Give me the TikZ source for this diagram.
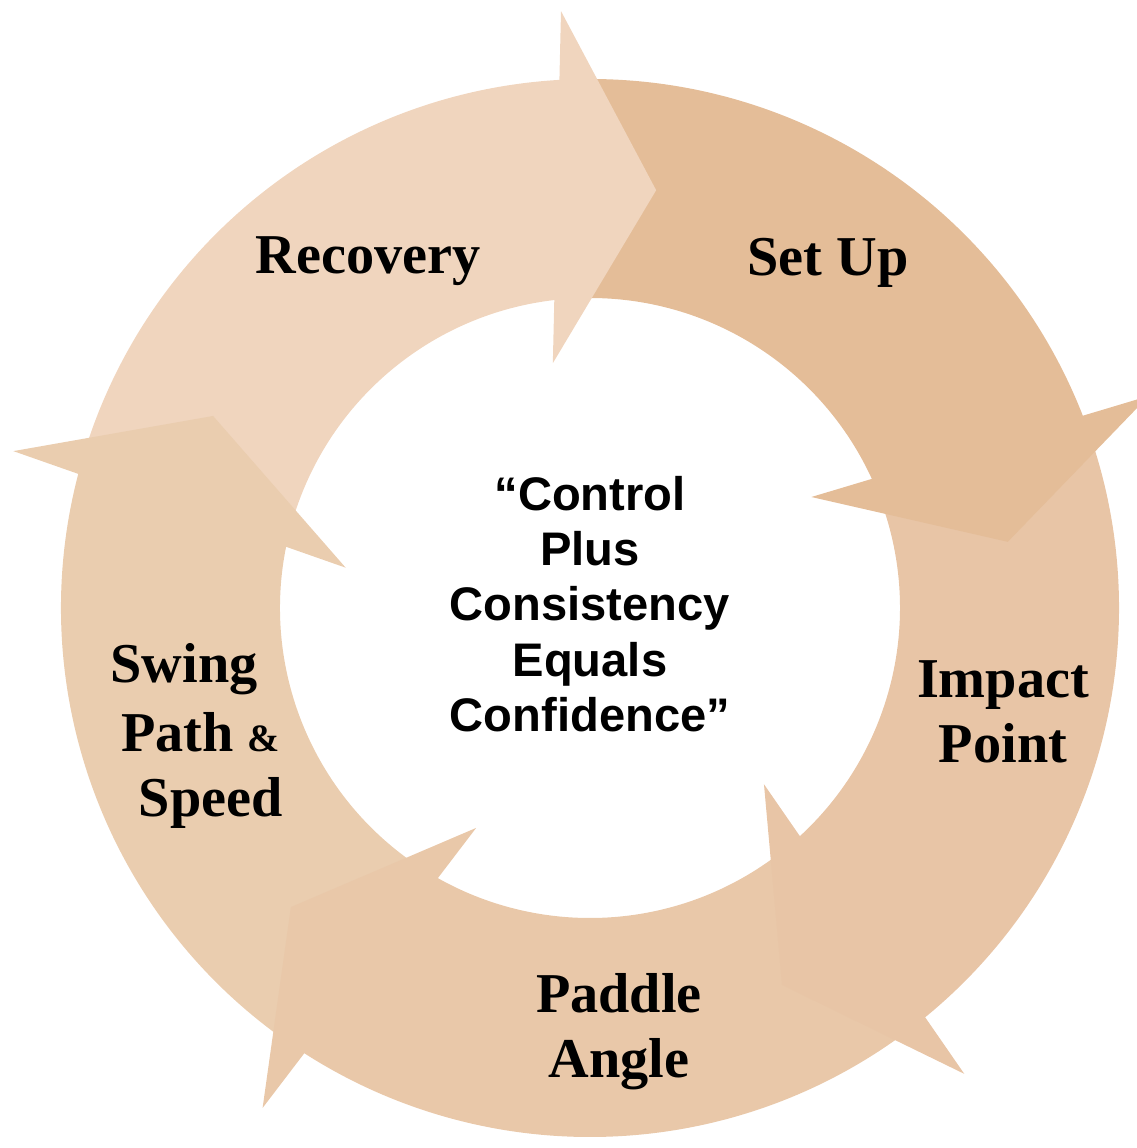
\documentclass[tikz,border=0pt]{standalone}
\usepackage{fontspec}
\setmainfont{Liberation Serif}
\newfontfamily\mottofont{Liberation Sans}
\usepackage{tikz}

\definecolor{recovcol}{HTML}{F0D5BE}
\definecolor{setupcol}{HTML}{E4BD98}
\definecolor{impactcol}{HTML}{E8C5A6}
\definecolor{paddlecol}{HTML}{E9C8A9}
\definecolor{swingcol}{HTML}{EACDAF}

\begin{document}
\begin{tikzpicture}[x=0.01cm, y=0.01cm,
	step label/.style={font=\bfseries\fontsize{16}{18.5}\selectfont, align=center, inner sep=0pt},
	motto/.style={font=\mottofont\bfseries\fontsize{13.4}{15.7}\selectfont, align=center, inner sep=0pt}]
	\useasboundingbox (-590,-540) rectangle (547,608);

	% Ring bodies, each 72 degrees, outer radius 529, inner radius 310
	\fill [recovcol]  (163:529) arc [start angle=163, end angle=91, radius=529]  -- (91:310)  arc [start angle=91, end angle=163, radius=310] -- cycle;
	\fill [setupcol]  (91:529)  arc [start angle=91, end angle=19, radius=529]   -- (19:310)  arc [start angle=19, end angle=91, radius=310] -- cycle;
	\fill [impactcol] (19:529)  arc [start angle=19, end angle=-53, radius=529]  -- (-53:310) arc [start angle=-53, end angle=19, radius=310] -- cycle;
	\fill [paddlecol] (-53:529) arc [start angle=-53, end angle=-125, radius=529] -- (-125:310) arc [start angle=-125, end angle=-53, radius=310] -- cycle;
	\fill [swingcol]  (-125:529) arc [start angle=-125, end angle=-197, radius=529] -- (-197:310) arc [start angle=-197, end angle=-125, radius=310] -- cycle;

	% Arrow heads on top of the next body
	\fill [recovcol, rotate=81]   (236,75) -- (423,0) -- (585,122) -- cycle;
	\fill [setupcol, rotate=9]    (236,75) -- (423,0) -- (585,122) -- cycle;
	\fill [impactcol, rotate=-63] (236,75) -- (423,0) -- (585,122) -- cycle;
	\fill [paddlecol, rotate=-135] (236,75) -- (423,0) -- (585,122) -- cycle;
	\fill [swingcol, rotate=153]  (236,75) -- (423,0) -- (585,122) -- cycle;

	% Labels
	\node [step label] (recovery) at (-222,347)  {Recovery};
	\node [step label] (setup)    at (238,345)   {Set Up};
	\node [step label] (impact)   at (413,-104)  {Impact\\Point};
	\node [step label] (paddle)   at (29,-424)   {Paddle\\Angle};
	\node [step label, align=left, anchor=west] (swing) at (-480,-128)
		{Swing\\[1pt]\hspace*{3pt}Path {\fontsize{11}{11}\selectfont\&}\\\hspace*{8pt}Speed};

	% Centre
	\node [motto] (motto) at (0,4) {“Control\\Plus\\Consistency\\Equals\\Confidence”};
\end{tikzpicture}
\end{document}
